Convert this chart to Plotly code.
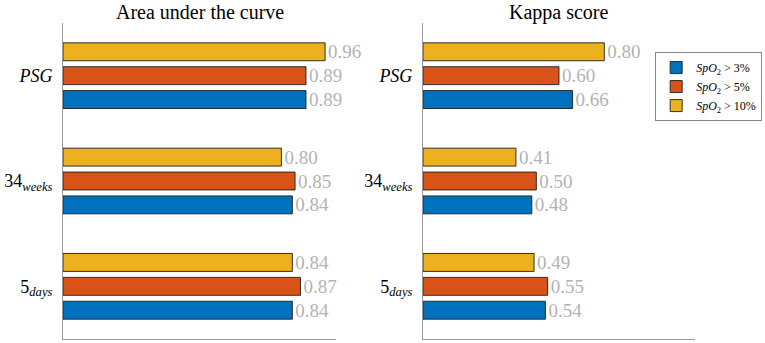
import plotly.graph_objects as go

categories = ["5<sub><i>days</i></sub>", "34<sub><i>weeks</i></sub>", "<i>PSG</i>"]
series_names = ["<i>SpO</i><sub>2</sub> > 3%", "<i>SpO</i><sub>2</sub> > 5%", "<i>SpO</i><sub>2</sub> > 10%"]
colors = ["#0072BD", "#D95319", "#EDB120"]

auc_3 = [0.84, 0.84, 0.89]
auc_5 = [0.87, 0.85, 0.89]
auc_10 = [0.84, 0.80, 0.96]

kappa_3 = [0.54, 0.48, 0.66]
kappa_5 = [0.55, 0.50, 0.60]
kappa_10 = [0.49, 0.41, 0.80]

panel_titles = ["Area under the curve", "Kappa score"]

serif = "Liberation Serif, DejaVu Serif, serif"

fig = go.Figure()

auc = [auc_3, auc_5, auc_10]
kappa = [kappa_3, kappa_5, kappa_10]

for i, vals in enumerate(auc):
    fig.add_trace(go.Bar(
        x=vals, y=categories, orientation="h", name=series_names[i],
        marker=dict(color=colors[i], line=dict(color="rgba(30,30,30,0.9)", width=1)),
        text=[f"{v:.2f}" for v in vals], textposition="outside",
        textfont=dict(color="#b3b3b3", size=19, family=serif),
        constraintext="none", cliponaxis=False,
        xaxis="x", yaxis="y", showlegend=False, legendgroup=str(i),
        hoverinfo="skip",
    ))
for i, vals in enumerate(kappa):
    fig.add_trace(go.Bar(
        x=vals, y=categories, orientation="h", name=series_names[i],
        marker=dict(color=colors[i], line=dict(color="rgba(30,30,30,0.9)", width=1)),
        text=[f"{v:.2f}" for v in vals], textposition="outside",
        textfont=dict(color="#b3b3b3", size=19, family=serif),
        constraintext="none", cliponaxis=False,
        xaxis="x2", yaxis="y2", showlegend=True, legendgroup=str(i),
        hoverinfo="skip",
    ))

axis_line = "#9a9a9a"
xcommon = dict(showgrid=False, zeroline=False, showticklabels=False, ticks="",
               showline=True, linecolor=axis_line, linewidth=1, fixedrange=True,
               automargin=False)
ycommon = dict(showgrid=False, zeroline=False, ticks="", showline=True,
               linecolor=axis_line, linewidth=1, type="category",
               categoryorder="array", categoryarray=categories,
               range=[-0.5, 2.5], tickfont=dict(family=serif, size=18, color="black"),
               ticklabelstandoff=6, automargin=False, fixedrange=True)

fig.update_layout(
    width=765, height=343,
    margin=dict(l=63, r=70, t=23, b=4, autoexpand=False),
    paper_bgcolor="white", plot_bgcolor="white",
    barmode="group", bargap=0.32, bargroupgap=0.25,
    xaxis=dict(domain=[0, 0.432], range=[0, 1.0], anchor="y", **xcommon),
    xaxis2=dict(domain=[0.5696, 1.0], range=[0, 1.2], anchor="y2", **xcommon),
    yaxis=dict(anchor="x", **ycommon),
    yaxis2=dict(anchor="x2", **ycommon),
    legend=dict(x=0.937, y=0.908, xanchor="left", yanchor="top",
                bgcolor="white", bordercolor="#888", borderwidth=1,
                font=dict(family=serif, size=12, color="black"),
                traceorder="normal", itemwidth=30, tracegroupgap=0),
    showlegend=True,
    annotations=[
        dict(text=panel_titles[0], xref="x domain", yref="paper", x=0.5, y=1,
             yshift=11, showarrow=False, font=dict(family=serif, size=20, color="black"),
             yanchor="middle"),
        dict(text=panel_titles[1], xref="x2 domain", yref="paper", x=0.5, y=1,
             yshift=11, showarrow=False, font=dict(family=serif, size=20, color="black"),
             yanchor="middle"),
    ],
)

# remove the browser's default page margin so the figure sits at the window origin
fig.write_html("out.html", config={"displayModeBar": False},
               post_script="document.body.style.margin='0';")
